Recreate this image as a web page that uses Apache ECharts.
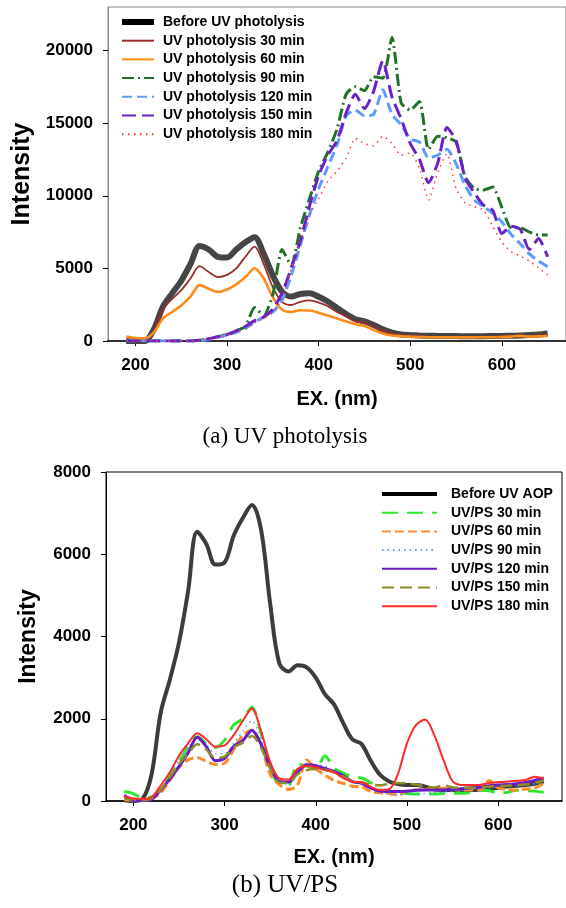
<!DOCTYPE html>
<html>
<head>
<meta charset="utf-8">
<script src="https://cdn.jsdelivr.net/npm/echarts@6/dist/echarts.min.js"></script>
<style>
  html, body { margin: 0; padding: 0; background: #fff; }
  #chart { width: 566px; height: 908px; }
</style>
</head>
<body>
<div id="chart"></div>
<script>
// Excitation wavelength (nm) of every sample point
const wavelength = [190,200,210,220,230,240,250,260,270,280,
                    290,300,310,320,330,340,350,360,370,380,
                    390,400,410,420,430,440,450,460,470,480,
                    490,500,510,520,530,540,550,560,570,580,
                    590,600,610,620,630,640,650];

const xTicks = [200, 300, 400, 500, 600];
const yTicksTop = [0, 5000, 10000, 15000, 20000];
const yTicksBottom = [0, 2000, 4000, 6000, 8000];

// (a) UV photolysis
const beforeUV = [0,-30,-20,800,2370,3280,4150,5300,6550,6300,
                  5800,5750,6300,6800,7150,6000,4500,3400,3060,3240,
                  3290,3050,2720,2280,1850,1500,1350,1100,800,580,
                  450,410,380,360,350,340,340,330,330,330,
                  340,350,360,380,420,450,520];
const uv30 = [50,0,0,700,2200,2900,3500,4300,5150,4750,
              4400,4550,5000,5800,6500,5300,3700,2700,2480,2700,
              2800,2650,2400,2000,1700,1350,1250,1000,700,500,
              400,350,320,300,290,280,280,280,280,290,
              300,310,330,380,330,380,420];
const uv60 = [300,200,180,600,1550,2000,2450,3050,3850,3600,
              3380,3550,3900,4400,5000,4300,3000,2150,2000,2120,
              2100,1950,1750,1550,1350,1150,1030,750,520,380,
              330,300,280,260,250,250,250,250,250,260,
              260,270,300,350,300,320,340];
const uv90 = [0,0,0,0,0,0,0,0,50,150,
              300,450,700,1000,2300,1750,3200,6300,5200,7800,
              9800,11700,13000,14600,17000,17500,17250,18200,18100,20900,
              16400,15900,16500,13200,14100,14000,13700,11300,10500,10400,
              10600,9200,7800,7800,7500,7300,7300];
const uv120 = [0,0,0,0,0,0,0,0,30,100,
               250,400,600,850,1300,1650,2000,2800,4500,6600,
               8700,10500,12000,13500,15500,15900,15500,15600,17300,15600,
               14900,13900,13700,12600,12800,13200,12200,10700,9700,9250,
               8800,8200,7350,6700,6000,5500,5120];
const uv150 = [0,0,0,0,0,0,0,0,50,150,
               300,450,700,1000,1400,1650,2200,3300,5000,6900,
               9300,11400,12800,13800,15700,17000,16000,17200,19300,16800,
               15300,13600,12500,10900,12250,14700,13800,11200,10200,9350,
               9000,7400,7900,7700,6300,7050,5800];
const uv180 = [0,0,0,0,0,0,0,0,30,100,
               250,400,600,850,1250,1550,2000,2900,5000,6900,
               8700,9800,11000,11700,12600,13950,13600,13450,14100,13600,
               12800,12950,11900,9700,11600,12900,10500,9500,9250,9030,
               7900,6800,6150,5850,5500,5050,4550];

// (b) UV/PS
const beforeAOP = [20,0,50,650,2150,2950,3850,5100,6550,6250,
                   5750,5800,6450,6880,7200,6600,4800,3350,3150,3300,
                   3250,3000,2600,2350,1900,1500,1390,990,650,480,
                   410,390,390,350,280,270,270,270,270,275,
                   290,320,350,370,390,420,480];
const ps30 = [230,180,80,100,280,650,950,1330,1560,1400,
              1300,1480,1850,2000,2280,1650,850,400,380,900,
              850,780,1100,800,680,590,560,450,280,220,
              190,180,170,170,170,180,190,190,200,260,
              250,190,210,260,250,240,210];
const ps60 = [30,20,30,60,200,500,820,1000,1060,960,
              890,920,1250,1600,1720,1350,650,400,280,390,
              1000,780,630,500,430,360,348,230,200,180,
              150,240,270,284,300,308,290,267,267,267,
              500,320,280,267,290,310,430];
const ps90 = [50,30,20,60,300,620,1000,1300,1500,1350,
              1150,1150,1400,1700,1950,1500,900,450,420,750,
              850,880,850,700,550,450,420,320,220,170,
              150,160,170,180,200,220,240,260,280,300,
              320,340,360,380,400,420,460];
const ps120 = [140,20,10,40,270,530,840,1170,1550,1320,
               980,1040,1330,1470,1720,1380,830,480,460,700,
               880,860,790,720,620,470,430,320,240,230,
               230,240,260,270,270,270,280,300,320,340,
               370,390,400,420,450,500,560];
const ps150 = [60,40,20,60,280,580,900,1150,1380,1250,
               1050,1080,1300,1420,1580,1300,800,450,440,650,
               750,780,760,700,600,480,450,400,380,420,
               440,430,400,350,330,380,330,320,320,330,
               350,360,370,380,400,440,500];
const ps180 = [110,60,50,90,380,700,1100,1400,1650,1500,
               1320,1350,1600,1950,2250,1700,950,550,520,780,
               850,820,750,700,560,470,460,350,270,280,
               650,1400,1850,1980,1600,1000,480,390,390,390,
               440,460,470,490,510,590,550];

const FONT = 'Liberation Sans, Arial, sans-serif';
const SERIF = 'Liberation Serif, Times New Roman, serif';

function curve(name, values, grid, color, width, dash, smooth) {
  return {
    name: name,
    type: 'line',
    xAxisIndex: grid,
    yAxisIndex: grid,
    data: wavelength.map((w, i) => [w, values[i]]),
    symbol: 'none',
    smooth: smooth,
    lineStyle: { color: color, width: width, type: dash },
    itemStyle: { color: color },
    emphasis: { disabled: true }
  };
}

const seriesA = [
  curve('Before UV photolysis', beforeUV, 0, '#454545', 6, 'solid', 0.3),
  curve('UV photolysis 30 min', uv30, 0, '#9b2c2c', 1.8, 'solid', 0.3),
  curve('UV photolysis 60 min', uv60, 0, '#ff8c1a', 2.6, 'solid', 0.3),
  curve('UV photolysis 90 min', uv90, 0, '#23702a', 3, [12, 4, 2, 4], 0.2),
  curve('UV photolysis 120 min', uv120, 0, '#5c9cff', 3, [10, 5], 0.2),
  curve('UV photolysis 150 min', uv150, 0, '#6a22c8', 3, [14, 6], 0.2),
  curve('UV photolysis 180 min', uv180, 0, '#ff3b3b', 1.5, [1.5, 4.5], 0.2)
];
const seriesB = [
  curve('Before UV AOP', beforeAOP, 1, '#3c3c3c', 4, 'solid', 0.35),
  curve('UV/PS 30 min', ps30, 1, '#2ee82e', 3, [16, 9], 0.3),
  curve('UV/PS 60 min', ps60, 1, '#ff8c28', 3, [9, 4], 0.3),
  curve('UV/PS 90 min', ps90, 1, '#5aa0ff', 1.5, [1.5, 4], 0.3),
  curve('UV/PS 120 min', ps120, 1, '#6a1bc8', 3, 'solid', 0.3),
  curve('UV/PS 150 min', ps150, 1, '#8c8c28', 2.5, [12, 6], 0.3),
  curve('UV/PS 180 min', ps180, 1, '#ff2a2a', 2, 'solid', 0.3)
];

const plain = (v) => String(v);
const tickLabel = { fontFamily: FONT, fontWeight: 'bold', fontSize: 17, color: '#000', formatter: plain };
const axisTitle = (size) => ({ fontFamily: FONT, fontWeight: 'bold', fontSize: size, color: '#000' });

function xAxisFor(grid, gap) {
  return {
    gridIndex: grid, type: 'value', min: 170, max: 670,
    axisLine: { show: true, lineStyle: { color: '#000', width: 1.5 } },
    axisTick: { show: true, customValues: xTicks, length: 5, lineStyle: { color: '#000' } },
    axisLabel: Object.assign({ customValues: xTicks, margin: 16 }, tickLabel),
    splitLine: { show: false },
    name: 'EX. (nm)', nameLocation: 'middle', nameGap: gap, nameTextStyle: axisTitle(20)
  };
}

function legendFor(names, left, top, iconWidth, textPad, firstWidth) {
  return {
    orient: 'vertical', left: left, top: top, padding: 0,
    itemWidth: iconWidth, itemHeight: 14, itemGap: 4.7,
    selectedMode: false,
    itemStyle: { opacity: 0 },
    textStyle: { fontFamily: FONT, fontWeight: 'bold', fontSize: 14, color: '#000', padding: [0, 0, 0, textPad] },
    data: names.map((n, i) => i === 0 ? { name: n, lineStyle: { color: '#000', width: firstWidth } } : { name: n })
  };
}

const chart = echarts.init(document.getElementById('chart'), null, { renderer: 'canvas' });
chart.setOption({
  animation: false,
  backgroundColor: '#fff',
  grid: [
    { left: 108, top: 7, width: 462, height: 334, show: true, borderColor: '#8a8a8a', borderWidth: 1 },
    { left: 106, top: 472, width: 456, height: 329, show: true, borderColor: '#000', borderWidth: 1 }
  ],
  xAxis: [xAxisFor(0, 48), xAxisFor(1, 46)],
  yAxis: [
    {
      gridIndex: 0, type: 'value', min: 0, max: 23000,
      axisLine: { show: true, lineStyle: { color: '#8a8a8a', width: 1 } },
      axisTick: { show: true, customValues: yTicksTop, length: 5, lineStyle: { color: '#000' } },
      axisLabel: Object.assign({ customValues: yTicksTop, margin: 15 }, tickLabel),
      splitLine: { show: false },
      name: 'Intensity', nameLocation: 'middle', nameGap: 73, nameTextStyle: axisTitle(25)
    },
    {
      gridIndex: 1, type: 'value', min: 0, max: 8000, interval: 2000,
      axisLine: { show: true, lineStyle: { color: '#000', width: 1 } },
      axisTick: { show: true, customValues: yTicksBottom, length: 5, lineStyle: { color: '#000' } },
      axisLabel: Object.assign({ customValues: yTicksBottom, margin: 15 }, tickLabel),
      splitLine: { show: false },
      name: 'Intensity', nameLocation: 'middle', nameGap: 66, nameTextStyle: axisTitle(23)
    }
  ],
  legend: [
    legendFor(seriesA.map(s => s.name), 119, 15, 32, 4, 6),
    legendFor(seriesB.map(s => s.name), 380, 487, 55, 9, 4)
  ],
  graphic: [
    { type: 'text', x: 285, y: 437, style: { text: '(a) UV photolysis', fontFamily: SERIF, fontSize: 23, fill: '#000', align: 'center', verticalAlign: 'middle' } },
    { type: 'text', x: 285, y: 885, style: { text: '(b) UV/PS', fontFamily: SERIF, fontSize: 25, fill: '#000', align: 'center', verticalAlign: 'middle' } }
  ],
  series: seriesA.concat(seriesB)
});
</script>
</body>
</html>
